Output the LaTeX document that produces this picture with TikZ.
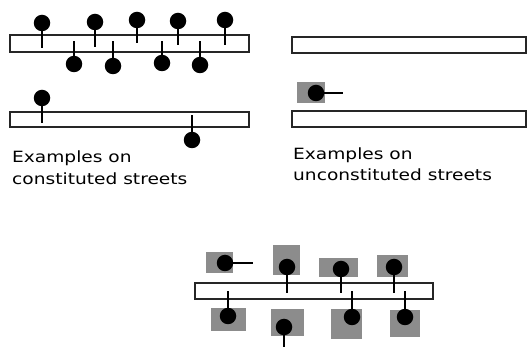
\documentclass[tikz,border=0pt]{standalone}
\usepackage{fontspec}
\setmainfont{DejaVu Sans}
\begin{document}
\begin{tikzpicture}[x=1pt,y=-1pt,
  street/.style={draw=black!85, line width=1.6pt, fill=white},
  house/.style={circle, fill=black, inner sep=0pt, minimum size=16.5pt},
  lot/.style={fill=black!45, inner sep=0pt},
  stem/.style={line width=1.7pt, black},
  caption/.style={anchor=base west, inner sep=0pt, font=\fontsize{15.5}{18}\selectfont}]
\useasboundingbox[fill=white] (0,0) rectangle (528,347);

% ---------- constituted streets: double-sided frontage ----------
\draw[street] (10,35) rectangle (249,52);
\foreach \n/\x/\y/\e in {a/42/23/48, b/95/22/47, c/137/20/43, d/178/21/45, e/225/20/45}{
  \coordinate (t\n) at (\x,\e);
  \node[house] (h\n) at (\x,\y) {};
  \draw[stem] (h\n) -- (t\n);
}
\foreach \n/\x/\y in {f/74/64, g/113/66, h/162/63, i/200/65}{
  \coordinate (t\n) at (\x,41);
  \node[house] (h\n) at (\x,\y) {};
  \draw[stem] (h\n) -- (t\n);
}

% ---------- constituted streets: single houses ----------
\draw[street] (10,112) rectangle (249,127);
\coordinate (tj) at (42,123);
\node[house] (hj) at (42,98) {};
\draw[stem] (hj) -- (tj);
\coordinate (tk) at (192,115);
\node[house] (hk) at (192,140) {};
\draw[stem] (hk) -- (tk);

\node[caption] (capA) at (12,163) {\scalebox{1.2}[1]{Examples on}};
\node[caption] (capB) at (12,185) {\scalebox{1.2}[1]{constituted streets}};

% ---------- unconstituted streets ----------
\draw[street] (292,37) rectangle (526,53);
\draw[street] (292,111) rectangle (526,127);
\node[lot, minimum width=28pt, minimum height=21pt] (lm) at (311,92.5) {};
\coordinate (tm) at (343,93);
\node[house] (hm) at (316,93) {};
\draw[stem, line width=1.2pt] (hm) -- (tm);

\node[caption] (capC) at (293,160) {\scalebox{1.2}[1]{Examples on}};
\node[caption] (capD) at (293,181) {\scalebox{1.2}[1]{unconstituted streets}};

% ---------- lots along a street ----------
% lots
\fill[black!45] (206,252) rectangle (233,273);
\fill[black!45] (273,245) rectangle (300,275);
\fill[black!45] (319,258) rectangle (358,277);
\fill[black!45] (377,255) rectangle (408,277);
\fill[black!45] (211,308) rectangle (246,331);
\fill[black!45] (271,309) rectangle (304,336);
\fill[black!45] (331,309) rectangle (362,339);
\fill[black!45] (390,310) rectangle (420,337);

\draw[street] (195,283) rectangle (433,299);

% house facing sideways
\coordinate (tn) at (253,263);
\node[house] (hn) at (225,263) {};
\draw[stem, line width=1.2pt] (hn) -- (tn);
% houses above the street
\foreach \n/\x/\y in {o/287/267, p/341/269, q/394/267}{
  \coordinate (t\n) at (\x,293);
  \node[house] (h\n) at (\x,\y) {};
  \draw[stem] (h\n) -- (t\n);
}
% houses below the street
\foreach \n/\x/\y in {r/228/316, s/352/317, u/405/317}{
  \coordinate (t\n) at (\x,291);
  \node[house] (h\n) at (\x,\y) {};
  \draw[stem] (h\n) -- (t\n);
}
% house with a lane running away from the street
\coordinate (tv) at (284,347);
\node[house] (hv) at (284,327) {};
\draw[stem] (hv) -- (tv);
\end{tikzpicture}
\end{document}
